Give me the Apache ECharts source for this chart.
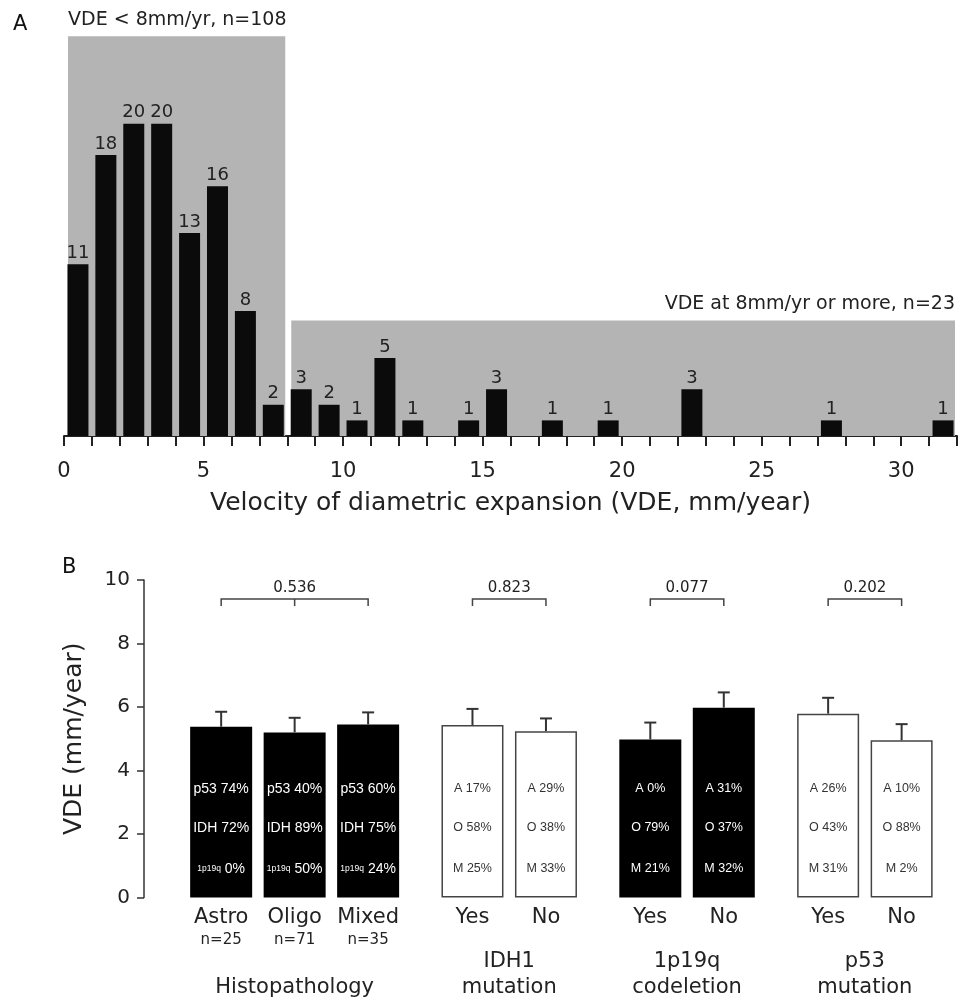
<!DOCTYPE html>
<html><head><meta charset="utf-8">
<script src="https://cdn.jsdelivr.net/npm/echarts@6/dist/echarts.min.js"></script>
<style>html,body{margin:0;padding:0;background:#fff}#c{width:960px;height:1001px}</style>
</head><body><div id="c"></div>
<script>
// ---------- Panel A data ----------
const histBins   = [0,1,2,3,4,5,6,7,8,9,10,11,12,13,14,15,16,17,18,19,20,21,22,23,24,25,26,27,28,29,30,31];
const histCounts = [11,18,20,20,13,16,8,2,3,2,1,5,1,0,1,3,0,1,0,1,0,0,3,0,0,0,0,1,0,0,0,1];
const shadeFrom  = [0, 8];
const shadeTo    = [8, 32];
const shadeTop   = [25.6, 7.4];
const shadeLabels = ['VDE < 8mm/yr, n=108', 'VDE at 8mm/yr or more, n=23'];
const xTitleA = 'Velocity of diametric expansion (VDE, mm/year)';

// ---------- Panel B data ----------
const groupNames = [['Histopathology'], ['IDH1','mutation'], ['1p19q','codeletion'], ['p53','mutation']];
const groupSizes = [3, 2, 2, 2];
const pValues    = ['0.536', '0.823', '0.077', '0.202'];
const barCategories = ['Astro','Oligo','Mixed','Yes','No','Yes','No','Yes','No'];
const barN       = ['n=25','n=71','n=35','','','','','',''];
const meanVDE    = [5.38, 5.20, 5.45, 5.43, 5.24, 4.98, 5.98, 5.79, 4.95];
const errVDE     = [0.47, 0.46, 0.38, 0.51, 0.40, 0.53, 0.48, 0.50, 0.51];
const filledBar  = [true, true, true, false, false, true, true, false, false];
const innerRow1  = ['p53 74%','p53 40%','p53 60%','A 17%','A 29%','A 0%','A 31%','A 26%','A 10%'];
const innerRow2  = ['IDH 72%','IDH 89%','IDH 75%','O 58%','O 38%','O 79%','O 37%','O 43%','O 88%'];
const innerRow3  = ['{s|1p19q} 0%','{s|1p19q} 50%','{s|1p19q} 24%','M 25%','M 33%','M 21%','M 32%','M 31%','M 2%'];

// ---------- layout helpers ----------
const GROUP_GAP = 0.42;
const barPos = [];
const barGroup = [];
groupSizes.forEach((n, g) => { for (let k = 0; k < n; k++) { barPos.push(barPos.length + g * GROUP_GAP); barGroup.push(g); } });
const groupFirst = [], groupLast = [], groupMid = [];
(function(){ let idx = 0; groupSizes.forEach(n => { groupFirst.push(barPos[idx]); groupLast.push(barPos[idx+n-1]); groupMid.push(n === 3 ? barPos[idx+1] : null); idx += n; }); })();

const FONT = 'DejaVu Sans';
const INNER_FONT = 'Liberation Sans';
const chart = echarts.init(document.getElementById('c'), null, {renderer: 'canvas'});

const histData = [];
histBins.forEach((b, i) => { if (histCounts[i] > 0) histData.push([b + 0.5, histCounts[i]]); });

const option = {
  animation: false,
  textStyle: {fontFamily: FONT},
  graphic: [
    {type: 'text', left: 13, top: 14, style: {text: 'A', font: '21px "DejaVu Sans"', fill: '#111'}},
    {type: 'text', left: 62, top: 557, style: {text: 'B', font: '21px "DejaVu Sans"', fill: '#111'}}
  ],
  grid: [
    {left: 64, top: 30, width: 896, height: 406},
    {left: 144, top: 580, width: 812, height: 317.5}
  ],
  xAxis: [
    {gridIndex: 0, type: 'value', min: 0, max: 32, interval: 1, offset: 6,
     axisLine: {lineStyle: {color: '#222', width: 2}},
     axisTick: {length: 10, lineStyle: {color: '#222', width: 2}},
     splitLine: {show: false},
     axisLabel: {formatter: v => (v % 5 === 0 ? String(v) : ''), fontSize: 21, color: '#222', margin: 19, fontFamily: FONT},
     name: xTitleA, nameLocation: 'middle', nameGap: 49,
     nameTextStyle: {fontSize: 25, color: '#222', fontFamily: FONT}},
    {gridIndex: 1, type: 'value', min: -1.05, max: 10, show: false}
  ],
  yAxis: [
    {gridIndex: 0, type: 'value', min: 0, max: 26, show: false},
    {gridIndex: 1, type: 'value', min: 0, max: 10, interval: 2,
     axisLine: {show: true, onZero: false, lineStyle: {color: '#333', width: 1.5}},
     axisTick: {show: true, length: 7, lineStyle: {color: '#333', width: 1.5}},
     splitLine: {show: false},
     axisLabel: {fontSize: 20, color: '#222', margin: 14, fontFamily: FONT},
     name: 'VDE (mm/year)', nameLocation: 'middle', nameGap: 57,
     nameTextStyle: {fontSize: 25, color: '#222', fontFamily: FONT}}
  ],
  series: [
    // shaded regions (panel A)
    {type: 'custom', xAxisIndex: 0, yAxisIndex: 0, clip: false, silent: true, z: 1,
     data: shadeFrom.map((f, i) => [f, shadeTo[i], shadeTop[i]]),
     encode: {x: [0, 1], y: 2},
     renderItem: function (params, api) {
       const i = params.dataIndex;
       const p0 = api.coord([api.value(0), 0]);
       const p1 = api.coord([api.value(1), api.value(2)]);
       const x0 = p0[0] + 4, x1 = p1[0] - 2, y0 = p1[1], y1 = p0[1];
       return {type: 'group', children: [
         {type: 'rect', shape: {x: x0, y: y0, width: x1 - x0, height: y1 - y0}, style: {fill: '#b4b4b4'}},
         {type: 'text', style: {text: shadeLabels[i], x: i === 0 ? x0 : x1, y: y0 - 16,
           align: i === 0 ? 'left' : 'right', verticalAlign: 'middle', fill: '#222', fontSize: 19, fontFamily: FONT}}
       ]};
     }},
    // histogram (panel A)
    {type: 'bar', xAxisIndex: 0, yAxisIndex: 0, data: histData, barWidth: 21, z: 2,
     itemStyle: {color: '#0b0b0b'},
     label: {show: true, position: 'top', distance: 2, fontSize: 18, color: '#222', fontFamily: FONT,
             formatter: p => String(p.value[1])}},
    // bars (panel B)
    {type: 'bar', xAxisIndex: 1, yAxisIndex: 1, barWidth: 62, z: 2,
     data: meanVDE.map((m, i) => ({value: [barPos[i], m],
       itemStyle: filledBar[i] ? {color: '#000'} : {color: '#fff', borderColor: '#444', borderWidth: 1.5}}))},
    // error bars
    {type: 'custom', xAxisIndex: 1, yAxisIndex: 1, clip: false, silent: true, z: 5,
     data: meanVDE.map((m, i) => [barPos[i], m, m + errVDE[i]]),
     encode: {x: 0, y: [1, 2]},
     renderItem: function (params, api) {
       const a = api.coord([api.value(0), api.value(1)]);
       const b = api.coord([api.value(0), api.value(2)]);
       const st = {stroke: '#333', lineWidth: 2};
       return {type: 'group', children: [
         {type: 'line', shape: {x1: a[0], y1: a[1], x2: b[0], y2: b[1]}, style: st},
         {type: 'line', shape: {x1: b[0] - 6, y1: b[1], x2: b[0] + 6, y2: b[1]}, style: st}
       ]};
     }},
    // brackets and p-values
    {type: 'custom', xAxisIndex: 1, yAxisIndex: 1, clip: false, silent: true, z: 5,
     data: groupFirst.map((f, g) => [f, 9.4, groupLast[g]]),
     encode: {x: [0, 2], y: 1},
     renderItem: function (params, api) {
       const g = params.dataIndex;
       const l = api.coord([api.value(0), api.value(1)]);
       const r = api.coord([api.value(2), api.value(1)]);
       const legY = api.coord([api.value(0), 9.18])[1];
       const st = {stroke: '#444', lineWidth: 1.5, fill: null};
       const ch = [
         {type: 'polyline', shape: {points: [[l[0], legY], [l[0], l[1]], [r[0], r[1]], [r[0], legY]]}, style: st},
         {type: 'text', style: {text: pValues[g], x: (l[0] + r[0]) / 2, y: l[1] - 3, align: 'center', verticalAlign: 'bottom',
           fill: '#222', fontSize: 15, fontFamily: FONT}}
       ];
       if (groupMid[g] !== null) {
         const m = api.coord([groupMid[g], 9.4]);
         ch.push({type: 'line', shape: {x1: m[0], y1: m[1], x2: m[0], y2: legY}, style: st});
       }
       return {type: 'group', children: ch};
     }},
    // texts inside bars and category labels
    {type: 'custom', xAxisIndex: 1, yAxisIndex: 1, clip: false, silent: true, z: 10,
     data: barPos.map(p => [p, 0]),
     encode: {x: 0, y: 1},
     renderItem: function (params, api) {
       const i = params.dataIndex;
       const base = api.coord([api.value(0), 0]);
       const x = base[0];
       const col = filledBar[i] ? '#fff' : '#333';
       const isHisto = barGroup[i] === 0;
       const fs = isHisto ? 14 : 12.5;
       const rows = [[innerRow1[i], 3.42], [innerRow2[i], 2.19], [innerRow3[i], 0.9]];
       const ch = rows.map(r => ({type: 'text', z2: 20, style: {text: r[0], x: x, y: api.coord([api.value(0), r[1]])[1],
         align: 'center', verticalAlign: 'middle', fill: col, fontSize: fs, fontFamily: INNER_FONT,
         rich: {s: {fontSize: 8.5, fill: col, fontFamily: INNER_FONT}}}}));
       ch.push({type: 'text', style: {text: barCategories[i], x: x, y: base[1] + 20, align: 'center', verticalAlign: 'middle',
         fill: '#222', fontSize: 21, fontFamily: FONT}});
       if (barN[i]) ch.push({type: 'text', style: {text: barN[i], x: x, y: base[1] + 43, align: 'center', verticalAlign: 'middle',
         fill: '#222', fontSize: 15, fontFamily: FONT}});
       const g = barGroup[i];
       if (barPos[i] === groupFirst[g]) {
         const gx = (api.coord([groupFirst[g], 0])[0] + api.coord([groupLast[g], 0])[0]) / 2;
         const lines = groupNames[g];
         lines.forEach((t, k) => {
           const fromBottom = lines.length - 1 - k;
           ch.push({type: 'text', style: {text: t, x: gx, y: base[1] + 90 - fromBottom * 26, align: 'center', verticalAlign: 'middle',
             fill: '#222', fontSize: 21, fontFamily: FONT}});
         });
       }
       return {type: 'group', children: ch};
     }}
  ]
};
chart.setOption(option);
</script>
</body></html>
